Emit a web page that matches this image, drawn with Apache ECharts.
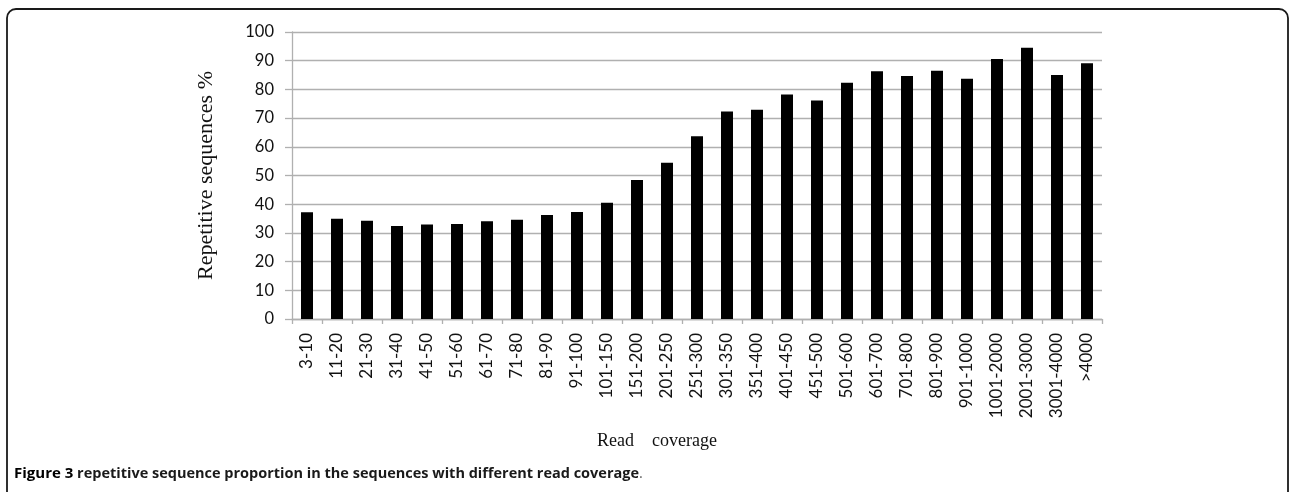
<!DOCTYPE html>
<html>
<head>
<meta charset="utf-8">
<script src="https://cdn.jsdelivr.net/npm/echarts@6/dist/echarts.min.js"></script>
<style>
html,body{margin:0;padding:0;background:#fff;}
#chart{width:1289px;height:492px;}
</style>
</head>
<body>
<div id="chart"></div>
<script>
const categories = ["3-10","11-20","21-30","31-40","41-50","51-60","61-70","71-80","81-90","91-100","101-150","151-200","201-250","251-300","301-350","351-400","401-450","451-500","501-600","601-700","701-800","801-900","901-1000","1001-2000","2001-3000","3001-4000",">4000"];
const repetitivePct = [37.2,34.9,34.2,32.4,32.9,33.1,34.1,34.6,36.2,37.3,40.5,48.4,54.4,63.7,72.3,72.9,78.2,76.1,82.3,86.3,84.7,86.5,83.7,90.6,94.5,85.0,89.1];
const yTicks = {min:0, max:100, interval:10};
const yTitle = "Repetitive sequences %";
const xTitle = "Read    coverage";
const captionBold = "Figure 3";
const captionText = " repetitive sequence proportion in the sequences with different read coverage";

const chart = echarts.init(document.getElementById('chart'), null, {renderer:'canvas'});
const labelFont = "Lato, 'Open Sans', sans-serif";
const serif = "'Times New Roman', 'Liberation Serif', serif";
const capFont = "'Open Sans', 'Noto Sans', sans-serif";
chart.setOption({
  animation:false,
  backgroundColor:'#fff',
  grid:{left:292, right:187, top:32, bottom:173, containLabel:false},
  xAxis:{
    type:'category',
    data:categories,
    boundaryGap:true,
    axisLine:{lineStyle:{color:'#b0b0b0', width:1.3}},
    axisTick:{show:true, length:5, alignWithLabel:false, lineStyle:{color:'#b0b0b0', width:1.3}},
    axisLabel:{rotate:90, margin:14, interval:0, color:'#111', fontSize:17, fontFamily:labelFont},
    name:xTitle,
    nameLocation:'middle',
    nameGap:113,
    nameTextStyle:{fontFamily:serif, fontSize:18, color:'#111', padding:[0,80,0,0]}
  },
  yAxis:{
    type:'value',
    min:yTicks.min, max:yTicks.max, interval:yTicks.interval,
    axisLine:{show:true, lineStyle:{color:'#b0b0b0', width:1.3}},
    axisTick:{show:true, length:7, lineStyle:{color:'#b0b0b0', width:1.3}},
    splitLine:{show:true, lineStyle:{color:'#b0b0b0', width:1.3}},
    axisLabel:{margin:18, color:'#111', fontSize:16.5, fontFamily:labelFont},
    name:yTitle,
    nameLocation:'middle',
    nameRotate:90,
    nameGap:75,
    nameTextStyle:{fontFamily:serif, fontSize:22, color:'#111'}
  },
  series:[{
    type:'bar',
    data:repetitivePct,
    barWidth:12,
    itemStyle:{color:'#000'},
    silent:true
  }],
  graphic:[
    {type:'rect', shape:{x:7, y:9, width:1281, height:700, r:9}, style:{fill:null, stroke:'#1a1a1a', lineWidth:1.8}, silent:true},
    {type:'text', x:14, y:474, style:{
      text:'{b|'+captionBold+'}{n|'+captionText+'}{p|.}',
      verticalAlign:'middle',
      rich:{
        b:{fontFamily:capFont, fontWeight:'bold', fontSize:15, fill:'#000'},
        n:{fontFamily:capFont, fontWeight:'bold', fontSize:14.5, fill:'#1a1a1a'},
        p:{fontFamily:capFont, fontWeight:'normal', fontSize:14.5, fill:'#666'}
      }
    }}
  ]
});
</script>
</body>
</html>
